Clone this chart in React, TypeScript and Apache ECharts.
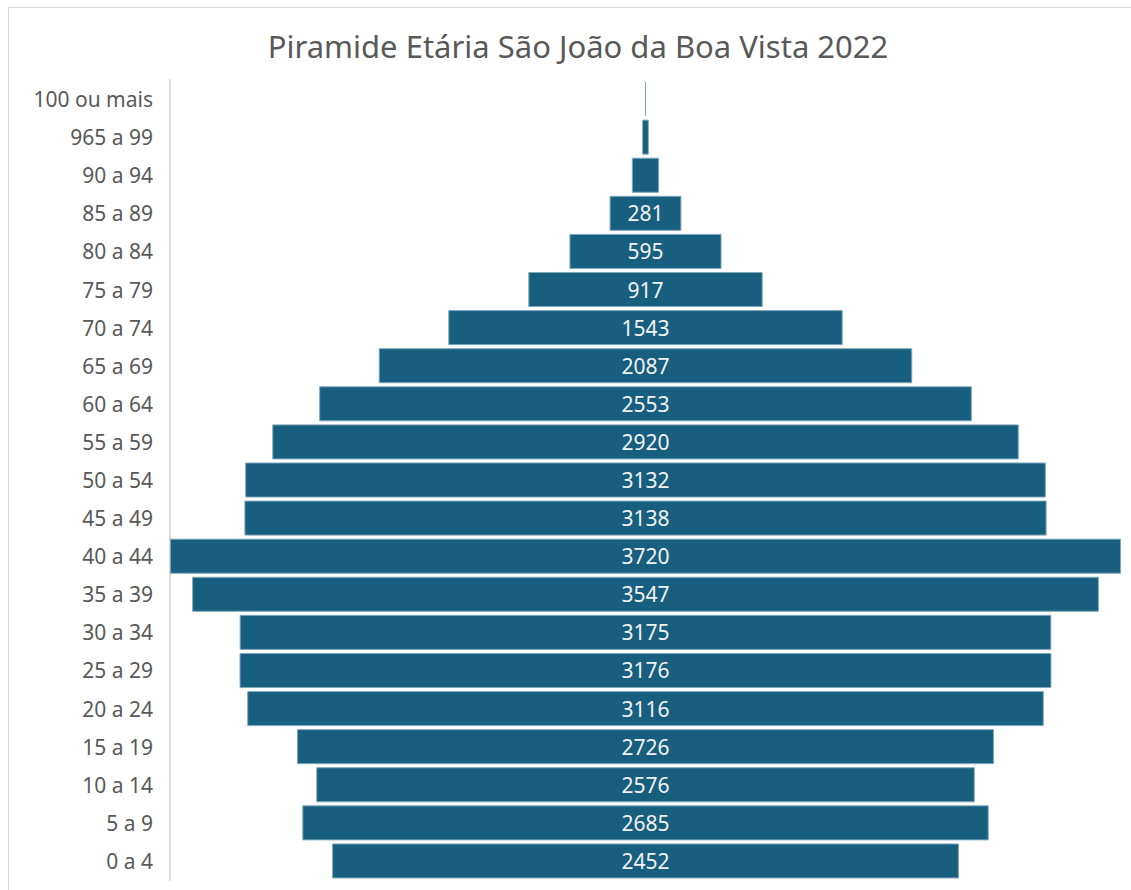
import React, { useEffect, useRef } from "react";
import * as echarts from "echarts";

const categories = [
  "0 a 4", "5 a 9", "10 a 14", "15 a 19", "20 a 24", "25 a 29", "30 a 34",
  "35 a 39", "40 a 44", "45 a 49", "50 a 54", "55 a 59", "60 a 64", "65 a 69",
  "70 a 74", "75 a 79", "80 a 84", "85 a 89", "90 a 94", "965 a 99", "100 ou mais",
];
const populacao = [
  2452, 2685, 2576, 2726, 3116, 3176, 3175, 3547, 3720, 3138, 3132, 2920, 2553,
  2087, 1543, 917, 595, 281, 107, 26, 4,
];
const maxValue = Math.max(...populacao);
const offsets = populacao.map((v) => (maxValue - v) / 2);

export default function App() {
  const ref = useRef<HTMLDivElement>(null);
  useEffect(() => {
    document.body.style.margin = "0";
    const chart = echarts.init(ref.current!, null, { renderer: "svg" });
    chart.setOption({
      animation: false,
      backgroundColor: "#ffffff",
      title: {
        text: "Piramide Etária São João da Boa Vista 2022",
        left: 573,
        textAlign: "center",
        top: 25,
        textStyle: {
          fontFamily: "Noto Sans",
          fontSize: 31,
          fontWeight: "normal",
          color: "#595959",
        },
      },
      graphic: [
        { type: "line", shape: { x1: 8, y1: 7.5, x2: 1131, y2: 7.5 }, style: { stroke: "#d9d9d9", lineWidth: 1 } },
        { type: "line", shape: { x1: 8.5, y1: 7, x2: 8.5, y2: 890 }, style: { stroke: "#d9d9d9", lineWidth: 1 } },
      ],
      grid: { left: 170, right: 10, top: 80, bottom: 10, containLabel: false },
      xAxis: {
        type: "value",
        min: 0,
        max: maxValue,
        show: false,
      },
      yAxis: {
        type: "category",
        data: categories,
        axisLine: { show: true, lineStyle: { color: "#d9d9d9", width: 2 } },
        axisTick: { show: false },
        axisLabel: {
          fontFamily: "Noto Sans",
          fontSize: 21,
          color: "#595959",
          margin: 17,
        },
      },
      series: [
        {
          type: "bar",
          stack: "p",
          data: offsets,
          itemStyle: { color: "transparent" },
          silent: true,
          barCategoryGap: "8%",
        },
        {
          type: "bar",
          stack: "p",
          data: populacao,
          barCategoryGap: "8%",
          itemStyle: { color: "#175e7f", borderColor: "#7fa8bd", borderWidth: 1 },
          label: {
            show: true,
            position: "inside",
            fontFamily: "Noto Sans",
            fontSize: 21,
            color: "#f2f2f2",
            formatter: (p: any) => (p.value >= 200 ? String(p.value) : ""),
          },
        },
      ],
    });
    return () => chart.dispose();
  }, []);
  return <div ref={ref} style={{ width: 1131, height: 890 }} />;
}
